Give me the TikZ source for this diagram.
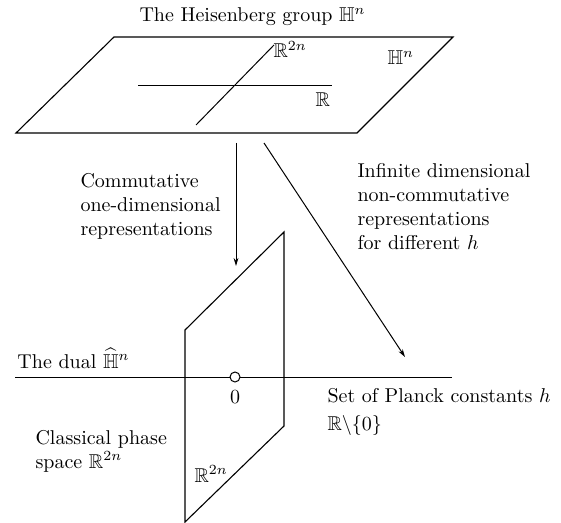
\documentclass[tikz,border=0pt]{standalone}
\usepackage{amssymb}
\usetikzlibrary{arrows.meta}
\begin{document}
\begin{tikzpicture}[x=0.5pt,y=-0.5pt, line width=0.5pt,
  lbl/.style={inner sep=0pt, anchor=base west, font=\fontsize{10}{12}\selectfont},
  plane/.style={draw, line width=0.55pt, line join=miter},
  arr/.style={-{Stealth[length=4pt,width=2.4pt]}, line width=0.5pt}]
\useasboundingbox (0,0) rectangle (561,523);

% upper plane (Heisenberg group)
\coordinate (A) at (114,37);
\coordinate (B) at (453,37);
\coordinate (C) at (357,133);
\coordinate (D) at (16,133);
\draw[plane] (A) -- (B) -- (C) -- (D) -- cycle;
\coordinate (h1) at (138,86);
\coordinate (h2) at (332,86);
\draw (h1) -- (h2);
\coordinate (d1) at (196,125);
\coordinate (d2) at (274,45);
\draw (d1) -- (d2);

\node[lbl] (title) at (139,22) {The Heisenberg group $\mathbb{H}^n$};
\node[lbl] (r2nup) at (273,58) {$\mathbb{R}^{2n}$};
\node[lbl] (rup) at (315,107) {$\mathbb{R}$};
\node[lbl] (hn) at (387,65) {$\mathbb{H}^n$};

% lower plane (classical phase space)
\coordinate (E) at (185,330);
\coordinate (F) at (284,232);
\coordinate (G) at (284,426);
\coordinate (H) at (185,522);
\draw[plane] (E) -- (F) -- (G) -- (H) -- cycle;

% dual line
\coordinate (l1) at (15,377);
\coordinate (l2) at (452,377);
\draw (l1) -- (l2);
\node[circle, draw, fill=white, minimum size=5pt, inner sep=0pt, line width=0.5pt] (zero) at (235,377) {};
\node[lbl, anchor=base] (zerolbl) at (235,403) {$0$};

% arrows
\coordinate (a1) at (236,143);
\coordinate (a2) at (236,266);
\draw[arr] (a1) -- (a2);
\coordinate (b1) at (264,143);
\coordinate (b2) at (405,357);
\draw[arr] (b1) -- (b2);

% texts
\node[lbl] (c1) at (80,188) {Commutative};
\node[lbl] (c2) at (80,212) {one-dimensional};
\node[lbl] (c3) at (80,236) {representations};

\node[lbl] (i1) at (357,178) {Infinite dimensional};
\node[lbl] (i2) at (357,202) {non-commutative};
\node[lbl] (i3) at (357,226) {representations};
\node[lbl] (i4) at (357,250) {for different $h$};

\node[lbl] (dual) at (17,368) {The dual $\widehat{\mathbb{H}}^n$};
\node[lbl] (planck) at (327,402) {Set of Planck constants $h$};
\node[lbl] (rminus) at (327,430) {$\mathbb{R}\backslash\{0\}$};

\node[lbl] (cl1) at (35,444) {Classical phase};
\node[lbl] (cl2) at (35,468) {space $\mathbb{R}^{2n}$};
\node[lbl] (r2nlow) at (194,482) {$\mathbb{R}^{2n}$};
\end{tikzpicture}
\end{document}
